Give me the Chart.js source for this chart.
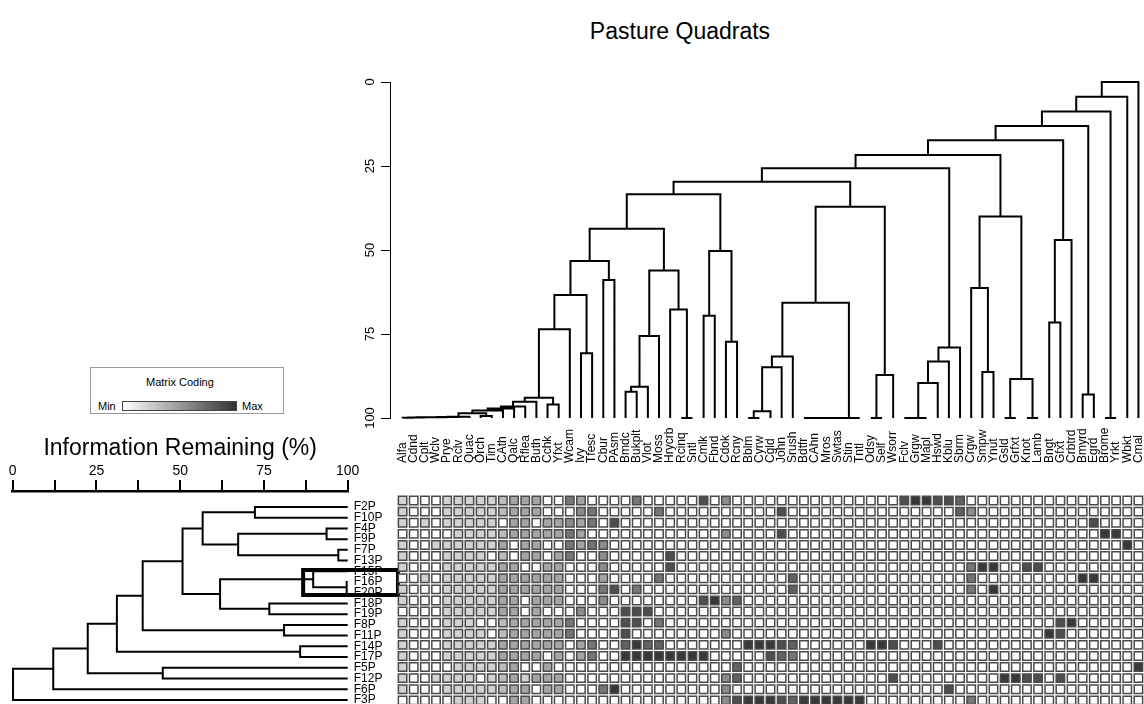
<!DOCTYPE html>
<html>
<head>
<meta charset="utf-8">
<title>Pasture Quadrats</title>
<script src="https://cdn.jsdelivr.net/npm/chart.js@4.4.1/dist/chart.umd.min.js"></script>
<style>
  body { margin: 0; width: 1144px; height: 704px; overflow: hidden; position: relative; background: #fff;
         font-family: "Liberation Sans", Arial, sans-serif; color: #000; }
  canvas, .abs { position: absolute; }
  #title { left: 480px; top: 18px; width: 400px; text-align: center; font-size: 23px; }
  #key { left: 90px; top: 367px; width: 192px; height: 45px; border: 1px solid #9a9a9a; font-size: 11px; }
  #key .abs { line-height: 13px; }
  #keyBar { left: 31px; top: 33px; width: 113px; height: 8px; border: 1px solid #444;
            background: linear-gradient(to right, #fff, #333); }
</style>
</head>
<body>
<div id="title" class="abs">Pasture Quadrats</div>
<div id="key" class="abs">
  <div class="abs" style="left:55px; top:8px;">Matrix Coding</div>
  <div class="abs" style="left:7px; top:32px;">Min</div>
  <div id="keyBar" class="abs"></div>
  <div class="abs" style="left:151px; top:32px;">Max</div>
</div>
<canvas id="speciesTree" width="804" height="360" style="left:340px; top:70px;"></canvas>
<canvas id="siteTree" width="400" height="274" style="left:0px; top:430px;"></canvas>
<canvas id="matrix" width="747" height="304" style="left:397px; top:400px;"></canvas>
<script>
// species (columns), in dendrogram order
var species = ['Alfa','Cdnd','Cplt','Wclv','Prye','Rclv','Quac','Orch','Tim','CAth','Qalc','Rflea','Buth','Cchk',
  'Yfxt','Wcam','Ivy','Tfesc','Cbur','PAsm','Bmdc','Bukplt','Vlot','Moss','Hrycrb','Rcinq','Sntl','Cmlk','Fbnd',
  'Cdok','Rcny','Bblm','Cyrw','Cgld','John','Srush','Bdtfr','CAhn','Mros','Swtas','Stin','Tntl','Odsy','Self',
  'Wsorr','Fclv','Grgw','Mapl','Hswd','Kblu','Sbrm','Crgw','Smpw','Ynut','Gsld','Grfxt','Knot','Lamb','Bngt',
  'Gfxt','Crbtrd','Bmyrd','Egrd','Brome','Yrkt','Wbkt','Cmal'];

// quadrats (rows), in dendrogram order
var sites = ['F2P','F10P','F4P','F9P','F7P','F13P','F15P','F16P','F20P','F18P','F19P','F8P','F11P','F14P',
  'F17P','F5P','F12P','F6P','F3P'];

// matrix coding, 0 = min (white) .. 9 = max (dark), one row per quadrat
var cover = [
  [2,0,0,0,2,2,2,2,2,3, 4,4,4,0,0,6,4,0,0,0, 0,6,0,0,0,0,0,8,0,5, 0,0,0,0,0,0,0,0,0,0, 0,0,0,0,0,8,9,9,8,8, 7,0,0,0,0,0,0,0,0,0, 0,0,0,0,0,0,0],
  [2,0,0,0,2,2,2,2,2,3, 4,4,4,0,0,0,5,6,0,0, 0,0,0,6,0,0,0,0,0,0, 0,0,0,0,8,0,0,0,0,0, 0,0,0,0,0,0,0,0,0,0, 7,5,0,0,0,0,0,0,0,0, 0,0,0,0,0,0,0],
  [2,0,2,0,2,2,2,2,2,0, 4,4,0,4,4,5,4,6,0,8, 0,0,0,0,0,0,0,0,0,0, 0,0,0,0,0,0,0,0,0,0, 0,0,0,0,0,0,0,0,0,0, 0,0,0,0,0,0,0,0,0,0, 0,0,8,0,0,0,0],
  [0,0,0,0,0,2,2,2,2,3, 4,4,4,4,4,6,4,0,0,0, 0,0,0,0,0,0,0,0,0,5, 0,0,0,0,8,0,0,0,0,0, 0,0,0,0,0,0,0,0,0,0, 0,0,0,0,0,0,0,0,0,0, 0,0,0,9,9,0,0],
  [2,0,0,2,2,2,2,2,2,4, 0,4,4,0,0,6,4,6,5,0, 0,0,0,0,0,0,0,0,0,0, 0,0,0,0,0,0,0,0,0,0, 0,0,0,0,0,0,0,0,0,0, 0,0,0,0,0,0,0,0,0,0, 0,0,0,0,0,9,0],
  [2,0,0,0,2,2,2,2,0,3, 0,4,4,0,4,6,0,0,5,0, 0,0,0,0,8,0,0,0,0,0, 0,0,0,0,0,0,0,0,0,0, 0,0,0,0,0,0,0,0,0,0, 0,0,0,0,0,0,0,0,0,0, 0,0,0,0,0,0,0],
  [2,0,0,0,2,2,2,2,2,4, 4,0,0,4,4,0,0,0,5,0, 0,0,0,0,8,0,0,0,0,0, 0,0,0,0,0,0,0,0,0,0, 0,0,0,0,0,0,0,0,0,0, 0,6,9,9,0,0,8,8,0,0, 0,0,0,0,0,0,0],
  [0,0,2,0,2,2,2,2,2,4, 4,4,4,4,4,0,0,0,4,0, 0,0,0,6,0,0,0,0,0,0, 0,0,0,0,0,7,0,0,0,0, 0,0,0,0,0,0,0,0,0,0, 0,6,0,0,0,0,0,0,0,0, 0,9,9,0,0,0,0],
  [2,0,0,0,2,2,2,2,2,4, 4,4,4,4,4,0,0,0,6,8, 0,6,0,0,0,0,0,0,0,0, 0,0,0,0,0,7,0,0,0,0, 0,0,0,0,0,0,0,0,0,0, 0,6,0,9,0,0,0,0,0,0, 0,0,0,0,0,0,0],
  [2,0,0,0,2,2,2,2,2,4, 4,0,4,4,4,0,0,0,5,0, 0,0,0,0,0,0,0,8,9,5, 7,0,0,0,0,0,0,0,0,0, 0,0,0,0,0,0,0,0,0,0, 0,0,0,0,0,0,0,0,0,0, 0,0,0,0,0,0,0],
  [0,0,0,0,2,2,2,2,2,4, 4,0,4,0,0,0,5,0,0,0, 8,8,8,0,0,0,0,0,0,0, 0,0,0,0,0,0,0,0,0,0, 0,0,0,0,0,0,0,0,0,0, 0,0,0,0,0,0,0,0,0,0, 0,0,0,0,0,0,0],
  [2,0,0,0,2,2,2,0,0,3, 4,4,4,4,4,6,0,0,0,0, 8,8,0,6,0,0,0,0,0,0, 0,0,0,0,0,0,0,0,0,0, 0,0,0,0,0,0,0,0,0,0, 0,0,0,0,0,0,0,0,0,8, 9,0,0,0,0,0,0],
  [2,0,0,0,2,2,2,2,0,3, 4,4,4,4,4,6,0,0,0,0, 8,0,0,0,0,0,0,0,0,5, 0,0,0,0,0,0,0,0,0,0, 0,0,0,0,0,0,0,0,0,0, 0,0,0,0,0,0,0,0,9,8, 0,0,0,0,0,0,0],
  [2,0,0,0,2,2,2,2,2,4, 4,4,4,4,4,0,4,6,0,0, 7,9,7,7,0,0,0,0,0,0, 0,9,9,9,8,7,0,0,0,0, 0,0,9,9,8,0,0,0,8,0, 0,0,0,0,0,0,0,0,0,0, 0,0,0,0,0,0,0],
  [2,0,0,0,2,2,2,2,2,4, 4,4,4,0,4,0,4,6,0,0, 9,9,9,9,9,9,9,9,0,0, 0,0,0,8,7,6,0,0,0,0, 0,0,0,0,0,0,0,0,0,0, 0,0,0,0,0,0,0,0,0,0, 0,0,0,0,0,0,0],
  [2,0,0,0,0,2,2,2,2,3, 4,0,0,4,0,0,0,0,0,0, 0,0,0,0,0,0,0,0,0,0, 7,0,0,0,0,0,0,0,0,0, 0,0,0,0,0,0,0,0,0,0, 0,0,0,0,0,0,0,0,0,0, 0,0,0,0,0,0,9],
  [2,0,0,2,2,2,2,0,2,3, 4,2,4,4,4,0,0,0,0,0, 0,0,0,0,0,0,0,0,0,5, 7,0,0,0,0,0,0,0,0,0, 0,0,0,0,8,0,0,0,0,0, 0,0,0,0,9,9,8,8,0,8, 0,0,0,0,0,0,0],
  [2,0,0,0,2,2,2,2,2,3, 4,4,0,4,4,0,0,0,6,9, 0,0,0,0,0,0,0,0,0,5, 0,0,0,0,0,0,0,0,0,0, 0,0,0,0,0,0,0,0,0,8, 0,0,0,0,0,0,0,0,0,0, 0,0,0,0,0,0,0],
  [0,0,0,0,0,2,2,2,0,0, 4,4,0,0,0,0,0,0,0,0, 0,0,0,0,0,0,0,0,0,5, 8,9,9,9,8,7,9,9,9,9, 9,9,0,0,0,0,0,0,0,0, 0,6,0,0,0,0,0,0,0,0, 0,0,0,0,0,0,0]
];

// species clustering: pairs joined (name = leaf, number = earlier join, 1-based) and information remaining (%)
var topMerges = [
  ['Alfa','Cdnd'], [1,'Cplt'], [2,'Wclv'], [3,'Prye'], [4,'Rclv'], [5,'Quac'], ['Orch','Tim'], [6,7],
  [8,'CAth'], [9,'Qalc'], [10,'Rflea'], [11,'Buth'], ['Cchk','Yfxt'], [12,13], [14,'Wcam'], ['Ivy','Tfesc'],
  [15,16], ['Cbur','PAsm'], [17,18], ['Bmdc','Bukplt'], [20,'Vlot'], [21,'Moss'], ['Rcinq','Sntl'],
  ['Hrycrb',23], [22,24], [19,25], ['Cmlk','Fbnd'], ['Cdok','Rcny'], [27,28], [26,29], ['Bblm','Cyrw'],
  [31,'Cgld'], [32,'John'], [33,'Srush'], ['Bdtfr','CAhn'], [35,'Mros'], [36,'Swtas'], [37,'Stin'],
  [38,'Tntl'], [34,39], ['Odsy','Self'], [41,'Wsorr'], [40,42], [30,43], ['Fclv','Grgw'], [45,'Mapl'],
  [46,'Hswd'], [47,'Kblu'], [48,'Sbrm'], [44,49], ['Smpw','Ynut'], ['Crgw',51], ['Gsld','Grfxt'],
  ['Knot','Lamb'], [53,54], [52,55], [50,56], ['Bngt','Gfxt'], [58,'Crbtrd'], [57,59], ['Bmyrd','Egrd'],
  [60,61], ['Brome','Yrkt'], [62,63], [64,'Wbkt'], [65,'Cmal']
];
var topHeights = [99.9, 99.85, 99.8, 99.75, 99.7, 99.6, 99.4, 98.6, 97.8, 97.2, 96.6, 95.2, 96, 94, 73.6, 80.7,
  63.4, 58.9, 53.3, 92.2, 90.7, 75.6, 100, 67.7, 56.1, 43.7, 69.6, 77.3, 50.3, 33.4, 100, 98, 84.9, 81.7,
  100, 100, 100, 100, 100, 65.7, 100, 87.2, 37.1, 29.7, 100, 100, 89.6, 83.2, 79, 25.7, 86.3, 61.3, 100, 100,
  88.4, 40, 21.7, 71.6, 47, 17.3, 93, 13.1, 100, 8.8, 4.4, 0];

// quadrat clustering
var siteMerges = [
  ['F2P','F10P'], ['F4P','F9P'], ['F7P','F13P'], [2,3], [1,4], ['F16P','F20P'], ['F15P',6], ['F18P','F19P'],
  [7,8], [5,9], ['F8P','F11P'], [10,11], ['F14P','F17P'], [12,13], ['F5P','F12P'], [14,15], [16,'F6P'], [17,'F3P']
];
var siteHeights = [72.3, 93.7, 97.2, 67.3, 56.7, 99.7, 89.7, 76.6, 61.9, 50.7, 81, 38.8, 85.8, 31.1, 44.8, 22.4, 12.1, 0.1];

// highlighted quadrats
var marked = ['F16P', 'F20P'];

var shades = [255, 232, 210, 188, 165, 140, 118, 98, 78, 56];

var FONT = '"Liberation Sans", Arial, sans-serif';
Chart.defaults.font.family = FONT;
Chart.defaults.color = '#000';

// elbow lines of a dendrogram, leaves sit at 100
function treeLines(leaves, merges, heights, flip) {
  var pos = [];
  var pts = [];
  function node(ref) {
    if (typeof ref === 'string') return [leaves.indexOf(ref), 100];
    return [pos[ref - 1], heights[ref - 1]];
  }
  function add(p, h) {
    pts.push(flip ? {x: h, y: p} : {x: p, y: h});
  }
  merges.forEach(function (m, k) {
    var a = node(m[0]), b = node(m[1]), h = heights[k];
    pos.push((a[0] + b[0]) / 2);
    add(a[0], a[1]); add(a[0], h); add(b[0], h); add(b[0], b[1]);
    pts.push({x: 0, y: null});
  });
  return pts;
}

var noPlugins = { legend: { display: false }, tooltip: { enabled: false } };

new Chart(document.getElementById('speciesTree'), {
  type: 'scatter',
  data: {
    datasets: [{
      data: treeLines(species, topMerges, topHeights, false),
      showLine: true, borderColor: '#000', borderWidth: 2, pointRadius: 0, clip: false
    }]
  },
  options: {
    responsive: false, animation: false, events: [],
    layout: { autoPadding: false, padding: { top: 12, bottom: 12, left: 0, right: 0 } },
    plugins: noPlugins,
    scales: {
      x: { type: 'linear', display: false, min: -1.13, max: 66.5 },
      y: {
        type: 'linear', reverse: true, min: 0, max: 100,
        afterFit: function (s) { s.width = 50; s.paddingTop = 0; s.paddingBottom = 0; },
        border: { color: '#000', width: 1 },
        grid: { drawOnChartArea: false, tickLength: 9, color: '#000' },
        ticks: { stepSize: 25, minRotation: 90, maxRotation: 90, crossAlign: 'center', padding: 0, font: { size: 13 } }
      }
    }
  }
});

var i16 = sites.indexOf(marked[0]), i20 = sites.indexOf(marked[1]);
var boxLine = [
  {x: 86.7, y: i16 - 1.12}, {x: 115, y: i16 - 1.12}, {x: 115, y: i20 + 0.21},
  {x: 86.7, y: i20 + 0.21}, {x: 86.7, y: i16 - 1.12}
];

new Chart(document.getElementById('siteTree'), {
  type: 'scatter',
  data: {
    datasets: [
      { data: treeLines(sites, siteMerges, siteHeights, true),
        showLine: true, borderColor: '#000', borderWidth: 2, pointRadius: 0, clip: false },
      { data: boxLine, showLine: true, borderColor: '#000', borderWidth: 4, borderCapStyle: 'square',
        borderJoinStyle: 'miter', pointRadius: 0, clip: false }
    ]
  },
  options: {
    responsive: false, animation: false, events: [],
    layout: { autoPadding: false, padding: { left: 12.7, right: 0, top: 0, bottom: 0 } },
    plugins: noPlugins,
    scales: {
      x: {
        type: 'linear', position: 'top', min: 0, max: 100,
        afterFit: function (s) { s.height = 61; s.paddingLeft = 0; s.paddingRight = 0; },
        title: { display: true, text: 'Information Remaining (%)', font: { size: 23 }, padding: { top: 5, bottom: 0 } },
        border: { color: '#000', width: 2.5 },
        grid: { drawOnChartArea: false, tickLength: 11, color: '#000', lineWidth: 2 },
        ticks: { stepSize: 12.5, padding: 0, font: { size: 14 },
                 callback: function (v) { return v % 25 === 0 ? v : ''; } }
      },
      y: {
        type: 'linear', position: 'right', reverse: true, min: -1.49, max: 18.38,
        afterFit: function (s) { s.width = 52.3; s.paddingTop = 0; s.paddingBottom = 0; },
        afterBuildTicks: function (s) { s.ticks = sites.map(function (n, i) { return { value: i }; }); },
        border: { display: false },
        grid: { display: false, drawTicks: false },
        ticks: { autoSkip: false, padding: 6, font: { size: 12 },
                 callback: function (v) { return sites[v]; } }
      }
    }
  }
});

var cells = [], cellColors = [];
cover.forEach(function (row, r) {
  row.forEach(function (v, c) {
    cells.push({ x: species[c], y: r });
    var g = shades[v];
    cellColors.push('rgb(' + g + ',' + g + ',' + g + ')');
  });
});

// species names above the matrix, read upward and sitting on a common baseline
var columnNames = {
  id: 'columnNames',
  afterDraw: function (chart) {
    var ctx = chart.ctx, xs = chart.scales.x;
    ctx.save();
    ctx.font = '12px ' + FONT;
    ctx.fillStyle = '#000';
    ctx.textAlign = 'left';
    ctx.textBaseline = 'middle';
    chart.data.labels.forEach(function (name, i) {
      ctx.save();
      ctx.translate(xs.getPixelForValue(i), chart.chartArea.top - 32);
      ctx.rotate(-Math.PI / 2);
      ctx.fillText(name, 0, 0);
      ctx.restore();
    });
    ctx.restore();
  }
};

new Chart(document.getElementById('matrix'), {
  type: 'scatter',
  data: {
    labels: species,
    datasets: [{
      data: cells, pointStyle: 'rect', pointRadius: 5.95,
      pointBackgroundColor: cellColors, pointBorderColor: '#4a4a4a', pointBorderWidth: 1.5
    }]
  },
  options: {
    responsive: false, animation: false, events: [],
    layout: { autoPadding: false, padding: { top: 95, left: 0, right: 0, bottom: 0 } },
    plugins: noPlugins,
    scales: {
      x: { type: 'category', display: false, offset: true },
      y: { type: 'linear', display: false, reverse: true, min: -0.5, max: 18.33 }
    }
  },
  plugins: [columnNames]
});
</script>
</body>
</html>
